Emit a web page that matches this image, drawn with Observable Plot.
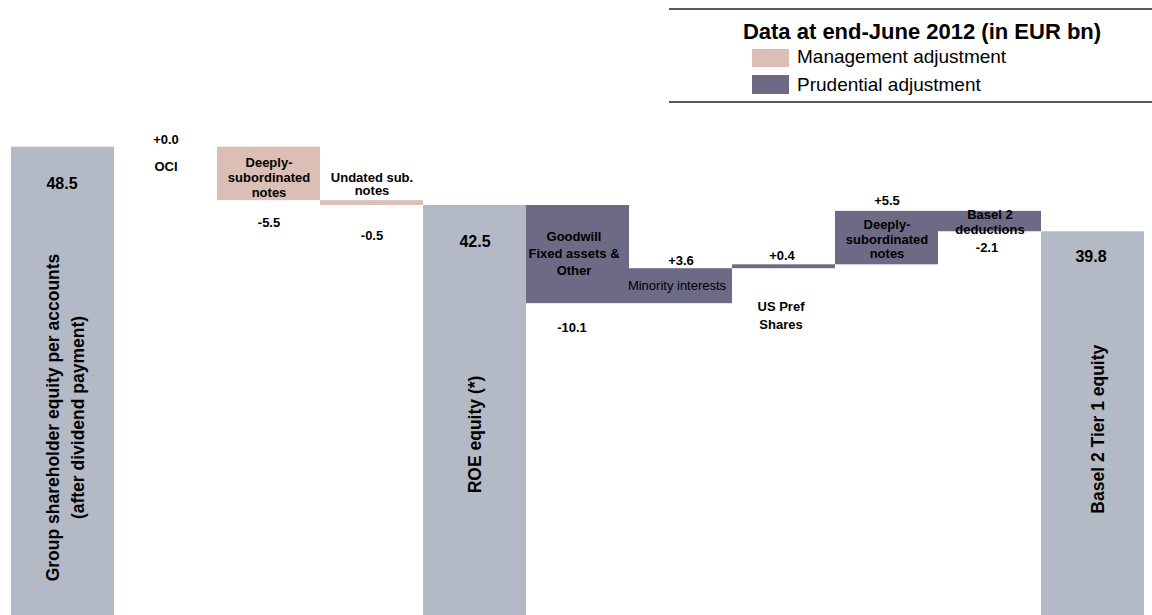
<!DOCTYPE html>
<html>
<head>
<meta charset="utf-8">
<script src="https://cdn.jsdelivr.net/npm/d3@7"></script>
<script src="https://cdn.jsdelivr.net/npm/@observablehq/plot@0.6"></script>
<style>
  html, body { margin: 0; padding: 0; background: #fff; overflow: hidden; }
  body { width: 1152px; height: 615px; font-family: "Liberation Sans", Arial, sans-serif; color: #000; }
  #legend { position: relative; width: 1152px; height: 110px; }
  #legend .box { position: absolute; left: 669px; top: 8.3px; width: 483px; height: 94.4px; box-sizing: border-box;
    border-top: 2px solid #5a5a5a; border-bottom: 2px solid #5a5a5a; }
  #legend .title { position: absolute; left: 672px; width: 500px; text-align: center; top: 19px;
    font-size: 22px; line-height: 26px; font-weight: bold; white-space: nowrap; }
  #legend .sw { position: absolute; left: 752px; width: 37px; height: 18.5px; }
  #legend .lab { position: absolute; left: 797px; font-size: 19px; line-height: 22px; white-space: nowrap; }
  #chart svg { display: block; }
</style>
</head>
<body>
<div id="legend"></div>
<div id="chart"></div>
<script>
// ---- data ----
const categories = [
  "Group shareholder equity per accounts (after dividend payment)",
  "OCI",
  "Deeply-subordinated notes (management)",
  "Undated sub. notes",
  "ROE equity (*)",
  "Goodwill Fixed assets & Other",
  "Minority interests",
  "US Pref Shares",
  "Deeply-subordinated notes (prudential)",
  "Basel 2 deductions",
  "Basel 2 Tier 1 equity"
];
const kinds = ["Total", "Change", "Management adjustment", "Management adjustment", "Total",
  "Prudential adjustment", "Prudential adjustment", "Prudential adjustment", "Prudential adjustment",
  "Prudential adjustment", "Total"];
const values = [48.5, 0.0, -5.5, -0.5, 42.5, -10.1, 3.6, 0.4, 5.5, -2.1, 39.8];
const valueLabels = ["48.5", "+0.0", "-5.5", "-0.5", "42.5", "-10.1", "+3.6", "+0.4", "+5.5", "-2.1", "39.8"];
const barLabels = ["", "OCI", "Deeply-\nsubordinated\nnotes", "Undated sub.\nnotes", "",
  "Goodwill\nFixed assets &\nOther", "Minority interests", "US Pref\nShares",
  "Deeply-\nsubordinated\nnotes", "Basel 2\ndeductions", ""];
const totalLabels = ["Group shareholder equity per accounts\n(after dividend payment)", "", "", "", "ROE equity (*)",
  "", "", "", "", "", "Basel 2 Tier 1 equity"];
const legendTitle = "Data at end-June 2012 (in EUR bn)";
const legendItems = ["Management adjustment", "Prudential adjustment"];

// ---- styling / layout (not data) ----
const colors = {"Total": "#b3b9c5", "Change": "#b3b9c5", "Management adjustment": "#dbbeb5", "Prudential adjustment": "#6c6a84"};
// anchor: which end of the bar the label is attached to; dy/dx in pixels
const valueLayout = [
  {a: "top", dy: 37, dx: -1}, {a: "top", dy: -7, dx: 0}, {a: "bottom", dy: 22, dx: 0}, {a: "bottom", dy: 30, dx: 0},
  {a: "top", dy: 36, dx: 0}, {a: "bottom", dy: 24, dx: -6}, {a: "top", dy: -8, dx: 0}, {a: "top", dy: -8.5, dx: -2},
  {a: "top", dy: -11, dx: 0}, {a: "bottom", dy: 16, dx: -3}, {a: "top", dy: 25, dx: -2}
];
const labelLayout = [
  null, {a: "top", dy: 20, dx: 0, lh: 1}, {a: "mid", dy: 3.5, dx: 0, lh: 1.15}, {a: "top", dy: -16, dx: 0, lh: 1.0},
  null, {a: "top", dy: 47, dx: -4, lh: 1.3}, {a: "mid", dy: 0, dx: -4, lh: 1, regular: true},
  {a: "bottom", dy: 45.5, dx: -3, lh: 1.35}, {a: "mid", dy: 1, dx: 0, lh: 1.12}, {a: "mid", dy: 0, dx: 0, lh: 1.15}, null
];
const rotLayout = [{dy: 34.6, dx: 0.8}, null, null, null, {dy: 22.4, dx: -2.5}, null, null, null, null, null, {dy: 4, dx: 3}];

// ---- waterfall rows ----
let running = 0;
const rows = categories.map((c, i) => {
  let y1, y2;
  if (kinds[i] === "Total") { y1 = 0; y2 = values[i]; running = values[i]; }
  else { y1 = running; y2 = running + values[i]; running = y2; }
  return {i, cat: c, kind: kinds[i], y1, y2, top: Math.max(y1, y2), bottom: Math.min(y1, y2), mid: (y1 + y2) / 2};
});

// ---- legend ----
const legend = document.getElementById("legend");
legend.innerHTML = `<div class="box"></div><div class="title">${legendTitle}</div>` +
  legendItems.map((t, k) => `<div class="sw" style="top:${48.5 + k * 26.5}px;background:${colors[t]}"></div>` +
    `<div class="lab" style="top:${46 + k * 28}px">${t}</div>`).join("");

// ---- chart ----
const marks = [
  Plot.barY(rows, {x: "i", y1: "y1", y2: "y2", fill: d => colors[d.kind], inset: 0})
];
rows.forEach((r, i) => {
  const v = valueLayout[i];
  marks.push(Plot.text([r], {x: "i", y: d => d[v.a], text: () => valueLabels[i], dx: v.dx, dy: v.dy,
    fontSize: (kinds[i] === "Total") ? 16 : 13, fontWeight: "bold", fill: "#000"}));
  const l = labelLayout[i];
  if (l) marks.push(Plot.text([r], {x: "i", y: d => d[l.a], text: () => barLabels[i], dx: l.dx, dy: l.dy,
    lineHeight: l.lh, fontSize: 13, fontWeight: l.regular ? "normal" : "bold", fill: "#000"}));
  const t = rotLayout[i];
  if (t) marks.push(Plot.text([r], {x: "i", y: "mid", text: () => totalLabels[i], dx: t.dx, dy: t.dy,
    rotate: -90, lineHeight: 1.43, fontSize: 17.5, fontWeight: "bold", fill: "#000"}));
});

const chart = Plot.plot({
  width: 1152,
  height: 505,
  margin: 0,
  style: {fontFamily: "'Liberation Sans', Arial, sans-serif", background: "#fff", overflow: "visible"},
  x: {type: "band", domain: d3.range(categories.length), range: [9, 1146.7], padding: 0, axis: null},
  y: {domain: [0, 48.5], range: [508.1, 36.7], axis: null},
  marks
});
document.getElementById("chart").appendChild(chart);
</script>
</body>
</html>
